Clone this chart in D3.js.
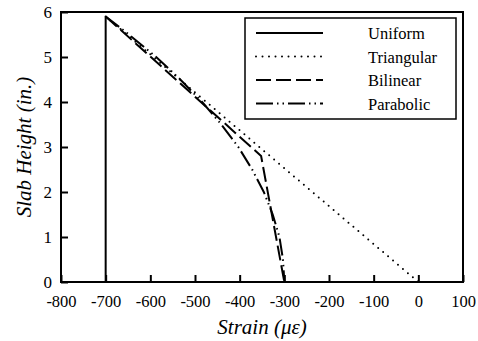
<!DOCTYPE html>
<html lang="en">
<head>
    <meta charset="UTF-8">
    <title>Slab Height vs Strain</title>
    <script src="https://d3js.org/d3.v7.min.js"></script>
    <style>
        body { margin: 0; background: #fff; }
        svg { display: block; }
        .legend-text { font-size: 16.5px; fill: #000; }
        .axis-title { font-size: 21px; font-style: italic; }
    </style>
</head>
<body>
    <svg width="478" height="341"></svg>

    <script>
        // Data
        const strainTicks = [-800, -700, -600, -500, -400, -300, -200, -100, 0, 100];
        const heightTicks = [0, 1, 2, 3, 4, 5, 6];
        const seriesNames = ["Uniform", "Triangular", "Bilinear", "Parabolic"];

        const uniformStrain = [-700, -700];
        const uniformHeight = [0, 5.9];

        const triangularStrain = [-700, 0];
        const triangularHeight = [5.9, 0];

        const bilinearStrain = [-700, -352, -300];
        const bilinearHeight = [5.9, 2.8, 0];

        const parabolicStrain = [-700, -648, -587, -533, -484, -441, -403, -372, -346, -326, -311, -303, -300];
        const parabolicHeight = [5.9, 5.5, 5.0, 4.5, 4.0, 3.5, 3.0, 2.5, 2.0, 1.5, 1.0, 0.5, 0];

        const serif = "'Liberation Serif', 'Times New Roman', 'DejaVu Serif', serif";
        const svg = d3.select("svg").attr("font-family", serif);
        const plotLeft = 61, plotRight = 463, plotTop = 12, plotBottom = 282;

        const x = d3.scaleLinear().domain([-800, 100]).range([plotLeft, plotRight]);
        const y = d3.scaleLinear().domain([0, 6]).range([plotBottom, plotTop]);

        const line = d3.line().x(d => x(d[0])).y(d => y(d[1]));

        // line styles for each series
        const styles = {
            "Uniform":    { dash: null, width: 2, cap: "butt" },
            "Triangular": { dash: "0,6.5", width: 2, cap: "round" },
            "Bilinear":   { dash: "15,5", width: 2, cap: "butt" },
            "Parabolic":  { dash: "17,4,1.5,4,1.5,4", width: 2, cap: "butt" }
        };

        const seriesData = {
            "Uniform": d3.zip(uniformStrain, uniformHeight),
            "Triangular": d3.zip(triangularStrain, triangularHeight),
            "Bilinear": d3.zip(bilinearStrain, bilinearHeight),
            "Parabolic": d3.zip(parabolicStrain, parabolicHeight)
        };

        // Axes with inward ticks, plain hyphen minus
        svg.append("g")
            .attr("transform", `translate(0,${plotBottom})`)
            .call(d3.axisBottom(x).tickValues(strainTicks).tickFormat(d => String(d))
                .tickSizeInner(-7).tickSizeOuter(0).tickPadding(13))
            .attr("font-family", serif).attr("font-size", 16.5)
            .call(g => g.select(".domain").remove())
            .call(g => g.selectAll(".tick line").attr("stroke-width", 2));

        svg.append("g")
            .attr("transform", `translate(${plotLeft},0)`)
            .call(d3.axisLeft(y).tickValues(heightTicks).tickFormat(d => String(d))
                .tickSizeInner(-7).tickSizeOuter(0).tickPadding(9))
            .attr("font-family", serif).attr("font-size", 17)
            .call(g => g.select(".domain").remove())
            .call(g => g.selectAll(".tick line").attr("stroke-width", 2));

        // Series lines
        seriesNames.forEach(name => {
            const s = styles[name];
            svg.append("path")
                .datum(seriesData[name])
                .attr("d", line)
                .attr("fill", "none")
                .attr("stroke", "#000")
                .attr("stroke-width", s.width)
                .attr("stroke-linecap", s.cap)
                .attr("stroke-dasharray", s.dash);
        });

        // Frame
        svg.append("rect")
            .attr("x", plotLeft).attr("y", plotTop)
            .attr("width", plotRight - plotLeft).attr("height", plotBottom - plotTop)
            .attr("fill", "none").attr("stroke", "#000").attr("stroke-width", 2);

        // Legend
        const legend = svg.append("g");
        legend.append("rect")
            .attr("x", 245).attr("y", 18).attr("width", 211).attr("height", 101)
            .attr("fill", "#fff").attr("stroke", "#000").attr("stroke-width", 1.5);

        seriesNames.forEach((name, i) => {
            const s = styles[name];
            const ly = 33 + i * 23.5;
            legend.append("line")
                .attr("x1", 256).attr("x2", 323).attr("y1", ly).attr("y2", ly)
                .attr("stroke", "#000")
                .attr("stroke-width", s.width)
                .attr("stroke-linecap", s.cap)
                .attr("stroke-dasharray", s.dash);
            legend.append("text")
                .attr("class", "legend-text")
                .attr("x", 368).attr("y", ly + 6)
                .text(name);
        });

        // Axis titles
        svg.append("text")
            .attr("class", "axis-title")
            .attr("x", (plotLeft + plotRight) / 2).attr("y", 334)
            .attr("text-anchor", "middle")
            .text("Strain (με)");

        svg.append("text")
            .attr("class", "axis-title")
            .attr("transform", `translate(31,${(plotTop + plotBottom) / 2}) rotate(-90)`)
            .attr("text-anchor", "middle")
            .text("Slab Height (in.)");
    </script>
</body>
</html>
